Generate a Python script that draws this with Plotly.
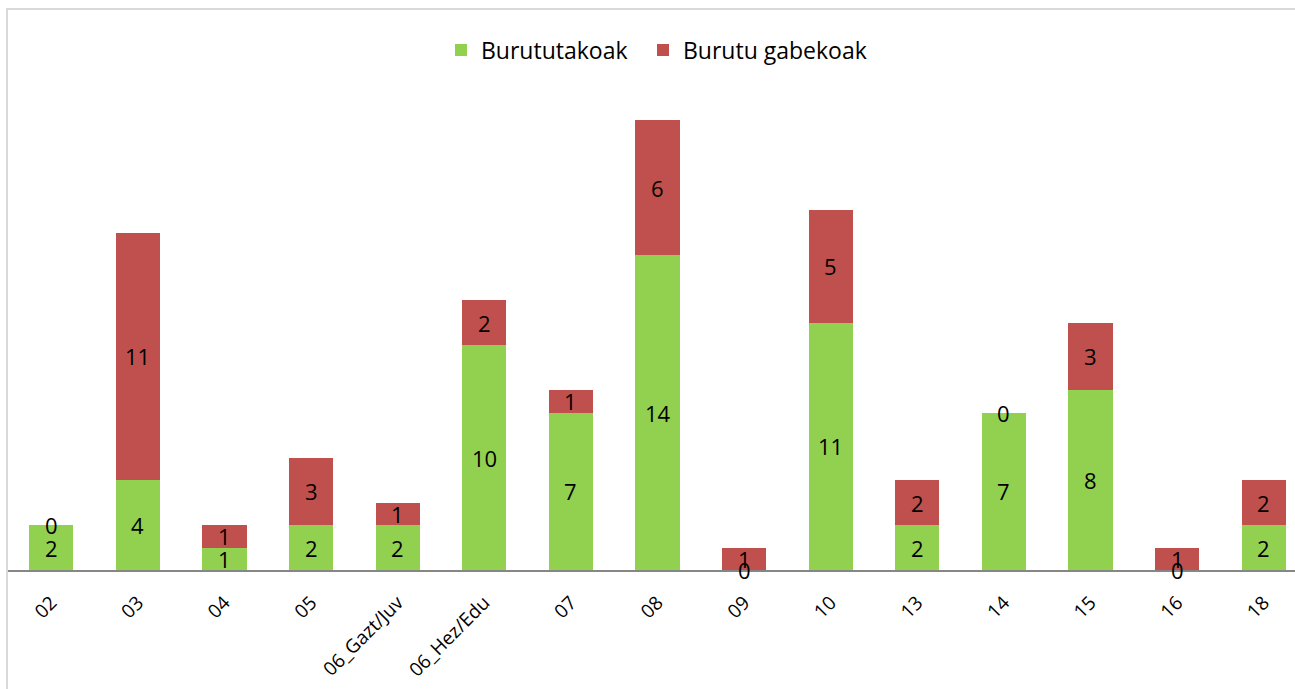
import plotly.graph_objects as go

categories = ["02", "03", "04", "05", "06_Gazt/Juv", "06_Hez/Edu", "07", "08",
              "09", "10", "13", "14", "15", "16", "18"]
burututakoak = [2, 4, 1, 2, 2, 10, 7, 14, 0, 11, 2, 7, 8, 0, 2]
burutu_gabekoak = [0, 11, 1, 3, 1, 2, 1, 6, 1, 5, 2, 0, 3, 1, 2]

GREEN = "#92D050"
RED = "#C0504D"
FONT = "Open Sans"

W, H = 1295, 689
ML, MR, MT, MB = 8, 0, 30, 119
cat_px = 86.6
plot_w = W - ML - MR
plot_h = H - MB - MT
x_hi = -0.5 + plot_w / cat_px
y_hi = plot_h / 22.5

idx = list(range(len(categories)))

fig = go.Figure()
fig.add_trace(go.Bar(x=idx, y=burututakoak, name="Burututakoak", legend="legend",
                     marker=dict(color=GREEN, line=dict(width=0)), width=0.51))
fig.add_trace(go.Bar(x=idx, y=burutu_gabekoak, name="Burutu gabekoak", legend="legend2",
                     marker=dict(color=RED, line=dict(width=0)), width=0.51))

lab_font = dict(family=FONT, size=22, color="black")
annotations = []
for i, g, r in zip(idx, burututakoak, burutu_gabekoak):
    annotations.append(dict(x=i, y=g / 2, text=str(g), showarrow=False,
                            font=lab_font, xref="x", yref="y"))
    annotations.append(dict(x=i, y=g + r / 2, text=str(r), showarrow=False,
                            font=lab_font, xref="x", yref="y"))

leg_common = dict(orientation="h", xref="paper", yref="paper",
                  xanchor="left", yanchor="middle", y=(H - MB - 50) / plot_h,
                  font=dict(family=FONT, size=23, color="black"),
                  bgcolor="rgba(0,0,0,0)")

fig.update_layout(
    barmode="stack",
    width=W, height=H,
    margin=dict(l=ML, r=MR, t=MT, b=MB, autoexpand=False),
    paper_bgcolor="white", plot_bgcolor="white",
    font=dict(family=FONT, size=19, color="black"),
    showlegend=True,
    legend=dict(x=(441 - ML) / plot_w, **leg_common),
    legend2=dict(x=(643 - ML) / plot_w, **leg_common),
    xaxis=dict(range=[-0.5, x_hi], tickangle=-45, showgrid=False,
               tickmode="array", tickvals=idx, ticktext=categories,
               showline=True, linecolor="#868686", linewidth=2, ticks="",
               ticklabelstandoff=12,
               tickfont=dict(family=FONT, size=19, color="black"), zeroline=False),
    yaxis=dict(range=[0, y_hi], showgrid=False, showticklabels=False, zeroline=False,
               showline=False),
    annotations=annotations,
    shapes=[dict(type="rect", xref="paper", yref="paper",
                 x0=-1 / plot_w, x1=1.1, y0=-0.5, y1=1 + 21 / plot_h,
                 line=dict(color="#D9D9D9", width=2), fillcolor="rgba(0,0,0,0)",
                 layer="below")],
)

fig.write_html("out.html", config={"displayModeBar": False},
               post_script="document.body.style.margin='0';")
